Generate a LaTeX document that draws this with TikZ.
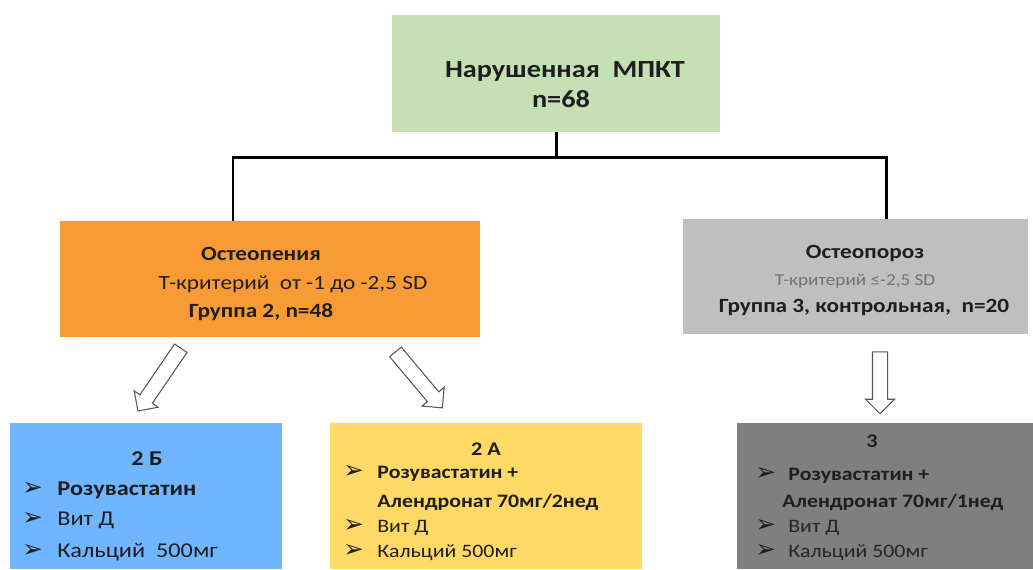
\documentclass[tikz,border=0pt]{standalone}
\usepackage{fontspec}
\setmainfont{Carlito}[FakeStretch=1.15]
\newfontfamily\bulletfont{DejaVu Sans}
\usetikzlibrary{positioning, shapes.arrows}
\definecolor{cGreen}{HTML}{C5E0B4}
\definecolor{cOrange}{HTML}{F99B35}
\definecolor{cGray}{HTML}{BFBFBF}
\definecolor{cBlue}{HTML}{6FB5FF}
\definecolor{cYellow}{HTML}{FFD966}
\definecolor{cDark}{HTML}{7F7F7F}
\definecolor{nInk}{HTML}{1E1E1E}
\definecolor{nLine}{HTML}{555555}
\newcommand{\fs}[1]{\fontsize{#1}{#1}\selectfont}
\tikzset{
  box/.style={inner sep=0pt, draw=none},
  txt/.style={inner sep=0pt, anchor=base, text=nInk},
  lead/.style={txt, anchor=base west},
  bul/.style={inner sep=0pt, anchor=base west, text=nInk, font=\bulletfont\fs{14}},
  hollow/.style={single arrow, draw=nLine, fill=white, line width=0.6pt,
    inner sep=0.14cm, single arrow head extend=0.14cm},
  bus/.style={line width=1.7pt, draw=black},
}
\begin{document}
\begin{tikzpicture}[x=0.02cm, y=-0.02cm]
  \useasboundingbox (0,0) rectangle (1033,569);
  % boxes
  \node[box, fill=cGreen, minimum width=6.56cm, minimum height=2.34cm] (bmd) at (556,73.5) {};
  \node[box, fill=cOrange, minimum width=8.4cm, minimum height=2.32cm] (penia) at (270,279) {};
  \node[box, fill=cGray, minimum width=6.9cm, minimum height=2.3cm] (poroz) at (855.5,276.5) {};
  \node[box, fill=cBlue, minimum width=5.44cm, minimum height=2.92cm] (gB) at (146,496) {};
  \node[box, fill=cYellow, minimum width=6.24cm, minimum height=2.92cm] (gA) at (486,496) {};
  \node[box, fill=cDark, minimum width=5.92cm, minimum height=2.92cm] (gC) at (885,496) {};

  % tree lines
  \coordinate (mid) at (556,157);
  \coordinate (jl) at (233,157);
  \coordinate (jr) at (886,157);
  \draw[bus] (bmd.south) -- (mid);
  \draw[bus] (penia.north -| jl) |- (jr) -- (poroz.north -| jr);

  % hollow arrows
  \node[hollow, minimum height=1.52cm, rotate=235.7] (arB) at (161.5,376.5) {};
  \node[hollow, minimum height=1.46cm, rotate=-50] (arA) at (416.5,377) {};
  \node[hollow, minimum height=1.24cm, rotate=-90] (arC) at (880,379) {};

  % top
  \node[txt, font=\bfseries\fs{14}] (bmd1) at (565,77) {Нарушенная\ \ МПКТ};
  \node[txt, font=\bfseries\fs{14}] (bmd2) at (561,107) {n=68};

  % osteopenia
  \node[txt, font=\bfseries\fs{11.5}] (pen1) at (261,260) {Остеопения};
  \node[txt, font=\fs{11.5}] (pen2) at (293,289) {Т-критерий\ \ от -1 до -2,5 SD};
  \node[txt, font=\bfseries\fs{11.5}] (pen3) at (261,317) {Группа 2, n=48};

  % osteoporosis
  \node[txt, font=\bfseries\fs{11.5}] (por1) at (865,258) {Остеопороз};
  \node[txt, font=\fs{9.5}, text=black!55] (por2) at (855,285) {Т-критерий ≤-2,5 SD};
  \node[txt, font=\bfseries\fs{11.5}] (por3) at (864,312) {Группа 3, контрольная,\ \ n=20};

  % group 2B
  \node[txt, font=\bfseries\fs{12}] (b0) at (147,465) {2 Б};
  \node[bul] (bb1) at (22,495) {➢};
  \node[lead, font=\bfseries\fs{12}] (b1) at (57,495) {Розувастатин};
  \node[bul] (bb2) at (22,525) {➢};
  \node[lead, font=\fs{12}] (b2) at (57,525) {Вит Д};
  \node[bul] (bb3) at (22,557) {➢};
  \node[lead, font=\fs{12}] (b3) at (57,557) {Кальций\ \ 500мг};

  % group 2A
  \node[txt, font=\bfseries\fs{11}] (a0) at (486,455) {2 А};
  \node[bul] (ba1) at (343,478) {➢};
  \node[lead, font=\bfseries\fs{10.8}] (a1) at (377,478) {Розувастатин +};
  \node[lead, font=\bfseries\fs{10.8}] (a2) at (377,507) {Алендронат 70мг/2нед};
  \node[bul] (ba3) at (343,532) {➢};
  \node[lead, font=\fs{10.8}] (a3) at (377,532) {Вит Д};
  \node[bul] (ba4) at (343,557) {➢};
  \node[lead, font=\fs{10.8}] (a4) at (377,557) {Кальций 500мг};

  % group 3
  \node[txt, font=\bfseries\fs{11}] (c0) at (872,447) {3};
  \node[bul] (bc1) at (755,480) {➢};
  \node[lead, font=\bfseries\fs{10.8}] (c1) at (788,480) {Розувастатин +};
  \node[lead, font=\bfseries\fs{10.8}] (c2) at (782,507) {Алендронат 70мг/1нед};
  \node[bul] (bc3) at (755,532) {➢};
  \node[lead, font=\fs{10.8}, text=black!85] (c3) at (788,532) {Вит Д};
  \node[bul] (bc4) at (755,557) {➢};
  \node[lead, font=\fs{10.8}, text=black!85] (c4) at (788,557) {Кальций 500мг};
\end{tikzpicture}
\end{document}
